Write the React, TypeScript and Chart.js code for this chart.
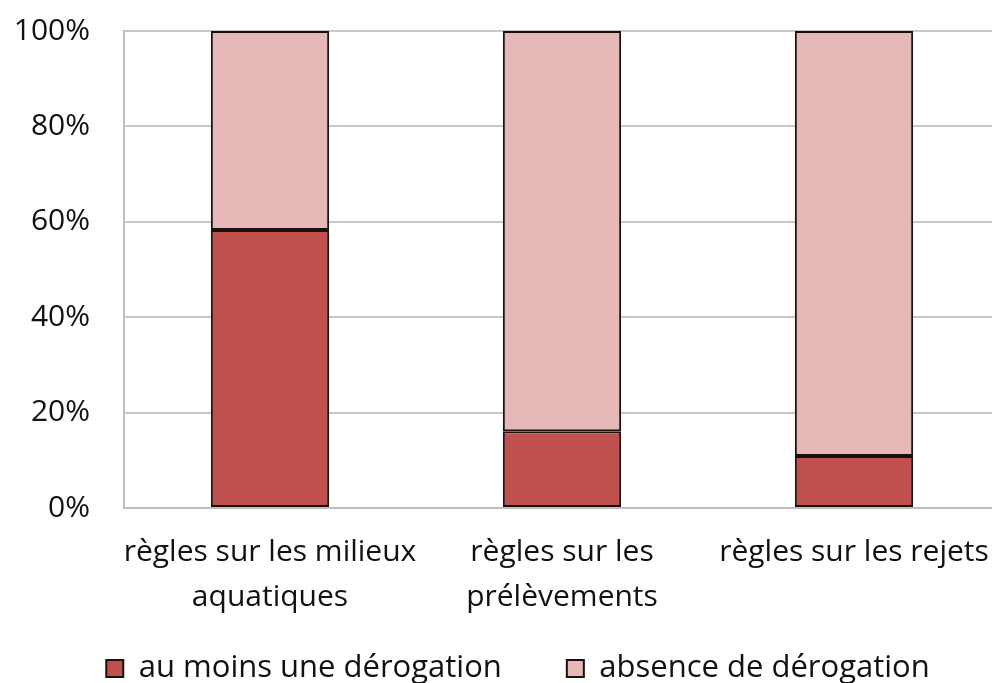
import React, { useEffect, useRef } from "react";
import { Chart, registerables } from "chart.js";
Chart.register(...registerables);

const categories: (string | string[])[] = [
  ["règles sur les milieux", "aquatiques"],
  ["règles sur les", "prélèvements"],
  "règles sur les rejets",
];
const seriesNames = ["au moins une dérogation", "absence de dérogation"];
const auMoinsUne = [58.3, 16.1, 10.9];
const absence = [41.7, 83.9, 89.1];
const yTicks = [0, 20, 40, 60, 80, 100];

const LEGEND_DX = 18;
const LEGEND_TOP = 588;

const legendShift = {
  id: "legendShift",
  beforeDraw(chart: any) {
    const lg = chart.legend;
    if (lg && !lg._shifted) {
      lg.left += LEGEND_DX;
      lg.right += LEGEND_DX;
      lg.top = LEGEND_TOP;
      lg._shifted = true;
    }
  },
  afterLayout(chart: any) {
    if (chart.legend) chart.legend._shifted = false;
  },
};

export default function App() {
  const ref = useRef<HTMLCanvasElement | null>(null);
  useEffect(() => {
    document.documentElement.style.overflow = "hidden";
    document.body.style.overflow = "hidden";
    const font = "'Open Sans', sans-serif";
    const chart = new Chart(ref.current!, {
      type: "bar",
      data: {
        labels: categories,
        datasets: [
          {
            label: seriesNames[0],
            data: auMoinsUne,
            backgroundColor: "#C0504D",
            borderColor: "#1a1010",
            borderWidth: 2,
            borderSkipped: false,
            categoryPercentage: 1,
            barPercentage: 0.405,
          },
          {
            label: seriesNames[1],
            data: absence,
            backgroundColor: "#E6B9B8",
            borderColor: "#1a1010",
            borderWidth: 2,
            borderSkipped: false,
            categoryPercentage: 1,
            barPercentage: 0.405,
          },
        ],
      },
      plugins: [legendShift],
      options: {
        animation: false,
        responsive: false,
        devicePixelRatio: 1,
        layout: { padding: { top: 31, right: 0, bottom: 0, left: 0 } },
        plugins: {
          tooltip: { enabled: false },
          legend: {
            position: "bottom",
            maxHeight: 55,
            labels: {
              color: "#111",
              font: { family: font, size: 31 },
              boxWidth: 17,
              boxHeight: 17,
              padding: 65,
            },
          },
        },
        scales: {
          x: {
            stacked: true,
            grid: { display: false, drawTicks: false },
            border: { display: true, color: "#BFBFBF", width: 2 },
            ticks: {
              color: "#111",
              font: { family: font, size: 30, lineHeight: 1.5 },
              padding: 22,
              maxRotation: 0,
              autoSkip: false,
            },
            afterFit: (scale: any) => {
              scale.height = 120;
              scale.paddingLeft = 0;
              scale.paddingRight = 0;
            },
          },
          y: {
            stacked: true,
            min: 0,
            max: 100,
            afterBuildTicks: (axis: any) => {
              axis.ticks = yTicks.map((v) => ({ value: v }));
            },
            grid: { color: "#C8C8C8", lineWidth: 2, drawTicks: false },
            border: { display: true, color: "#BFBFBF", width: 2 },
            ticks: {
              color: "#111",
              font: { family: font, size: 30 },
              padding: 34,
              callback: (v: any) => v + "%",
            },
            afterFit: (scale: any) => {
              scale.width = 124;
              scale.paddingTop = 0;
              scale.paddingBottom = 0;
            },
          },
        },
      },
    });
    return () => chart.destroy();
  }, []);
  return (
    <div style={{ position: "absolute", left: 0, top: 0, width: 1000, height: 683 }}>
      <canvas ref={ref} width={1000} height={683} style={{ width: 1000, height: 683 }} />
    </div>
  );
}
